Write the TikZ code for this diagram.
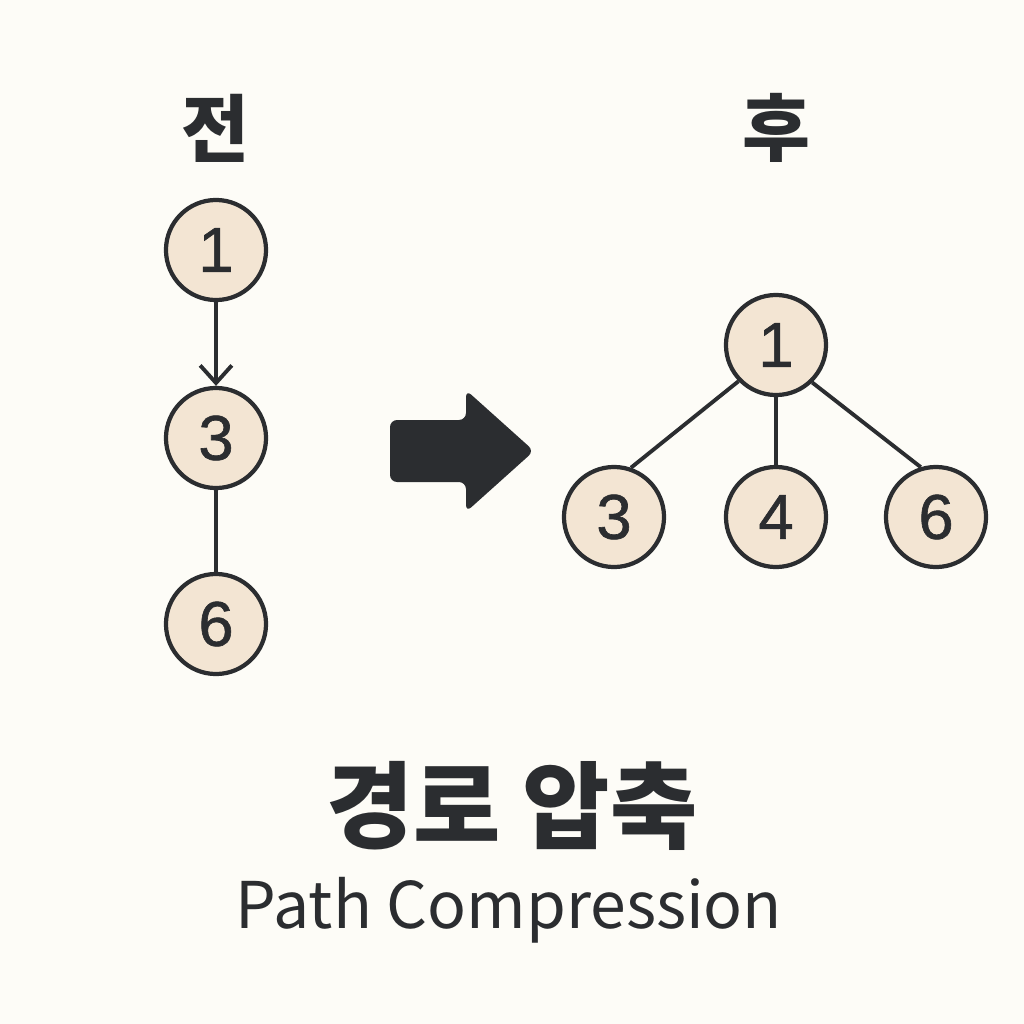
\documentclass[tikz,border=0pt]{standalone}
\usepackage{fontspec}
\setmainfont{Noto Sans CJK KR}
\newfontfamily\pcdigits[FakeBold=1]{Liberation Sans}
\usetikzlibrary{arrows.meta}
\definecolor{pcbg}{RGB}{253,252,247}
\definecolor{pcfill}{RGB}{243,229,211}
\definecolor{pcdark}{RGB}{43,45,48}
\begin{document}
\begin{tikzpicture}[x=0.01cm,y=-0.01cm,
  pcnode/.style={circle,draw=pcdark,fill=pcfill,line width=1.2pt,minimum size=1.0cm,
    inner sep=0pt,text=pcdark,font=\pcdigits\fontsize{18}{18}\selectfont},
  pcedge/.style={draw=pcdark,line width=1.1pt}
]
  \fill[pcbg] (0,0) rectangle (1024,1024);
  \useasboundingbox (0,0) rectangle (1024,1024);
  % Headers
  \node[text=pcdark,font=\fontsize{21}{21}\selectfont\bfseries] (before) at (215,128) {전};
  \node[text=pcdark,font=\fontsize{21}{21}\selectfont\bfseries] (after) at (776,128) {후};
  % Before: chain
  \node[pcnode] (b1) at (216,250) {1};
  \node[pcnode] (b3) at (216,438) {3};
  \node[pcnode] (b6) at (216,624) {6};
  \draw[pcedge,-{Straight Barb[length=5pt,width=9pt,line width=1.1pt]}] (b1) -- (b3);
  \draw[pcedge] (b3) -- (b6);
  % Big arrow
  \fill[pcdark,rounded corners=2pt] (390,420) -- (466,420) -- (466,390) -- (534,451)
    -- (466,512) -- (466,482) -- (390,482) -- cycle;
  % After: flattened tree
  \node[pcnode] (a1) at (776,345) {1};
  \node[pcnode] (a3) at (614,517) {3};
  \node[pcnode] (a4) at (776,517) {4};
  \node[pcnode] (a6) at (936,517) {6};
  \draw[pcedge] (a1.224) -- (a3.71);
  \draw[pcedge] (a1) -- (a4);
  \draw[pcedge] (a1.-46) -- (a6.107);
  % Title
  \node[text=pcdark,font=\fontsize{27}{27}\selectfont\bfseries] (title) at (512,806) {경로 압축};
  \node[text=pcdark,font=\fontsize{18.3}{18.3}\selectfont] (subtitle) at (509,910) {Path Compression};
\end{tikzpicture}
\end{document}
